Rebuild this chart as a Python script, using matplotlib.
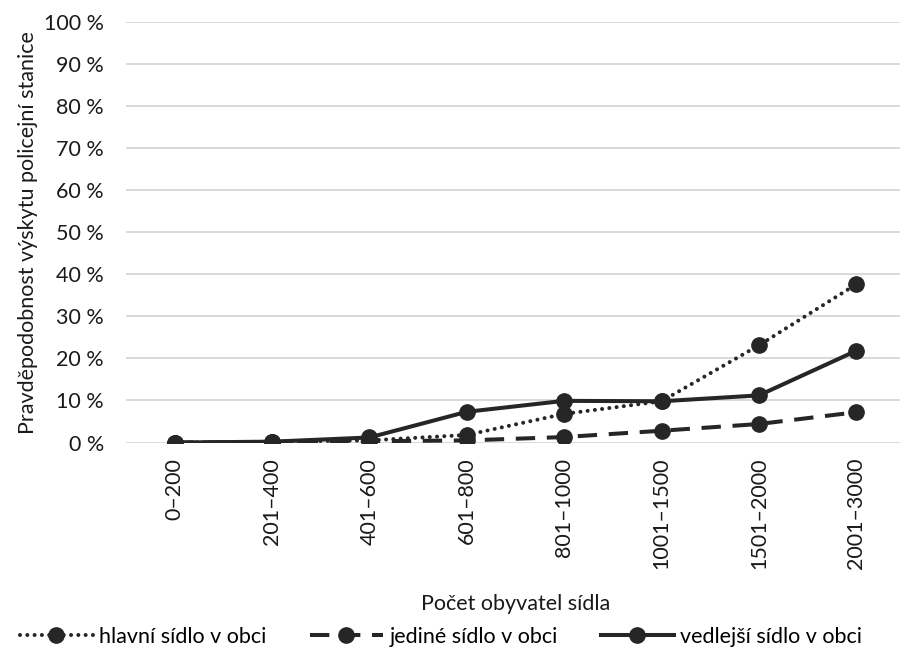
import matplotlib.pyplot as plt
from matplotlib.ticker import FuncFormatter

plt.rcParams['font.family'] = ['Lato', 'DejaVu Sans']

# categories and probabilities (%)
categories = ['0–200', '201–400', '401–600', '601–800', '801–1000',
              '1001–1500', '1501–2000', '2001–3000']
hlavni = [0.0, 0.2, 0.5, 1.8, 6.8, 9.8, 23.1, 37.6]
jedine = [0.0, 0.1, 0.3, 0.5, 1.3, 2.8, 4.4, 7.2]
vedlejsi = [0.0, 0.2, 1.2, 7.3, 9.9, 9.8, 11.2, 21.8]

col = '#262626'
tcol = '#1a1a1a'
fs = 15.5
lw = 2.9
ms = 11

fig = plt.figure(figsize=(9, 6.55), dpi=100)
ax = fig.add_axes([126 / 900, 0.3244, 779 / 900, 0.6426])

x = list(range(len(categories)))
ax.plot(x, hlavni, color=col, lw=lw, linestyle=(0, (0.01, 1.8)),
        dash_capstyle='round', marker='o', markersize=ms,
        label='hlavní sídlo v obci')
ax.plot(x, jedine, color=col, lw=lw, linestyle=(0, (4.8, 2.9)),
        marker='o', markersize=ms, label='jediné sídlo v obci')
ax.plot(x, vedlejsi, color=col, lw=lw, linestyle='-',
        marker='o', markersize=ms, label='vedlejší sídlo v obci')

ax.set_xlim(-0.5, len(categories) - 0.5)
ax.set_ylim(0, 100)
ax.set_yticks(range(0, 101, 10))
ax.yaxis.set_major_formatter(FuncFormatter(lambda v, p: f'{int(v)} %'))
ax.set_xticks(x)
ax.set_xticklabels(categories, rotation=90)
ax.grid(axis='y', color='#d9d9d9', lw=1.4)
ax.set_axisbelow(True)
for s in ax.spines.values():
    s.set_visible(False)
ax.tick_params(length=0, labelsize=fs, colors=tcol)
ax.tick_params(axis='x', pad=11)
ax.tick_params(axis='y', pad=16)

ax.set_ylabel('Pravděpodobnost výskytu policejní stanice', fontsize=fs,
              color=tcol, labelpad=4)
ax.set_xlabel('Počet obyvatel sídla', fontsize=fs, color=tcol, labelpad=18)

fig.legend(loc='center', bbox_to_anchor=(0.49, 0.0275), ncol=3, frameon=False,
           fontsize=fs, handlelength=3.4, columnspacing=2.0, handletextpad=0.3)

fig.savefig('out.png', dpi=100)
